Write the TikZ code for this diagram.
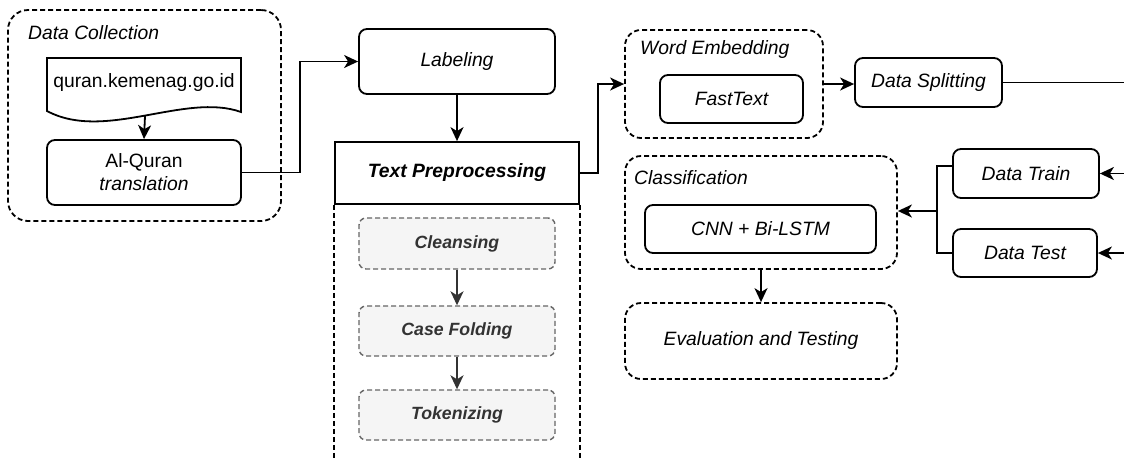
\documentclass[tikz,border=0pt]{standalone}
\usepackage{fontspec}
\setmainfont{Liberation Sans}
\usetikzlibrary{arrows.meta,calc}
\definecolor{gfill}{HTML}{F5F5F5}
\definecolor{gline}{HTML}{666666}
\definecolor{gtext}{HTML}{333333}
\begin{document}
\begin{tikzpicture}[x=1pt,y=-1pt,
  font=\fontsize{19.3}{23}\selectfont,
  arr/.style={-{Stealth[length=14pt,width=13pt,inset=4pt]}},
  conn/.style={line width=1.8pt},
  box/.style={draw,line width=1.8pt,rounded corners=8pt,inner sep=0pt,align=center,font=\fontsize{19.3}{23}\selectfont\itshape},
  cont/.style={draw,line width=1.8pt,dash pattern=on 5pt off 3pt,rounded corners=16pt,inner sep=0pt},
  gbox/.style={draw=gline,fill=gfill,line width=1.4pt,dash pattern=on 5pt off 3pt,rounded corners=7pt,inner sep=0pt,text=gtext,font=\fontsize{17.7}{21}\selectfont\bfseries\itshape},
  lbl/.style={anchor=west,inner sep=0pt,font=\fontsize{19.3}{23}\selectfont\itshape}
]
\useasboundingbox (0,0) rectangle (1124,459);

% Data Collection
\node[cont,rounded corners=20pt,minimum width=273pt,minimum height=211pt] (dc) at (144.5,115.5) {};
\node[lbl] (dclbl) at (28,33) {Data Collection};
\draw[line width=1.8pt,fill=white] (47,58) -- (241,58) -- (241,112) .. controls (185,92) and (105,142) .. (47,111) -- cycle;
\node[inner sep=0pt] (doc) at (144,83) {quran.kemenag.go.id};
\coordinate (docb) at (145,116);
\node[box,minimum width=194pt,minimum height=65pt] (alq) at (144,172.5) {\upshape Al-Quran\\ translation};

% Labeling
\node[box,minimum width=196pt,minimum height=65pt] (lab) at (457,61.5) {Labeling};

% Text preprocessing
\node[draw,line width=1.8pt,inner sep=0pt,minimum width=244pt,minimum height=62pt,font=\fontsize{19.3}{23}\selectfont\bfseries\itshape] (tp) at (457,173) {Text Preprocessing};
\draw[line width=1.8pt,dash pattern=on 5pt off 3pt] (tp.south west) -- ++(0,260);
\draw[line width=1.8pt,dash pattern=on 5pt off 3pt] (tp.south east) -- ++(0,260);
\node[gbox,minimum width=196pt,minimum height=51pt] (cl) at (457,243.5) {Cleansing};
\node[gbox,minimum width=196pt,minimum height=50pt] (cf) at (457,331) {Case Folding};
\node[gbox,minimum width=196pt,minimum height=50pt] (tk) at (457,415) {Tokenizing};

% Word embedding
\node[cont,minimum width=198pt,minimum height=108pt] (we) at (724,84) {};
\node[lbl] (welbl) at (640,50) {Word Embedding};
\node[box,minimum width=143pt,minimum height=48pt] (ft) at (731.5,99) {FastText};
\node[box,minimum width=147pt,minimum height=49pt] (ds) at (928.5,82.5) {Data Splitting};
\coordinate (dsend) at (1124,82.5);

% Classification
\node[cont,minimum width=272pt,minimum height=113pt] (cls) at (761,212.5) {};
\node[lbl] (clslbl) at (634,178) {Classification};
\node[box,minimum width=231pt,minimum height=48pt] (cnn) at (760.5,229) {CNN + Bi-LSTM};
\node[cont,minimum width=272pt,minimum height=76pt,font=\fontsize{19.3}{23}\selectfont\itshape] (ev) at (761,341) {Evaluation and Testing};

\node[box,minimum width=146pt,minimum height=49pt] (dtr) at (1026,173.5) {Data Train};
\node[box,minimum width=144pt,minimum height=48pt] (dte) at (1025,253) {Data Test};
\coordinate (trin) at (1124,173.5);
\coordinate (tein) at (1124,253);
\coordinate (jn) at (937,211);

% connectors
\draw[conn,arr] (docb) -- (alq.north);
\draw[conn,arr] (alq.east) -- (300,172.5) -- (300,61.5) -- (lab.west);
\draw[conn,arr] (lab.south) -- (tp.north);
\draw[conn,arr] (tp.east) -- (598,173) -- (598,84) -- (we.west);
\draw[conn,arr] (we.east) -- (ds.west |- we.east);
\draw[conn] (ds.east) -- (dsend);
\draw[conn,arr] (trin) -- (dtr.east);
\draw[conn,arr] (tein) -- (dte.east);
\draw[conn] (dtr.west |- 0,166) -- (937,166) -- (937,253) -- (dte.west);
\draw[conn,arr] (jn) -- (jn -| cls.east);
\draw[conn,arr] (cls.south) -- (ev.north);
\draw[line width=1.8pt,draw=gtext,fill=gtext,-{Stealth[length=14pt,width=13pt,inset=4pt]}] (cl.south) -- (cf.north);
\draw[line width=1.8pt,draw=gtext,fill=gtext,-{Stealth[length=14pt,width=13pt,inset=4pt]}] (cf.south) -- (tk.north);
\end{tikzpicture}
\end{document}
